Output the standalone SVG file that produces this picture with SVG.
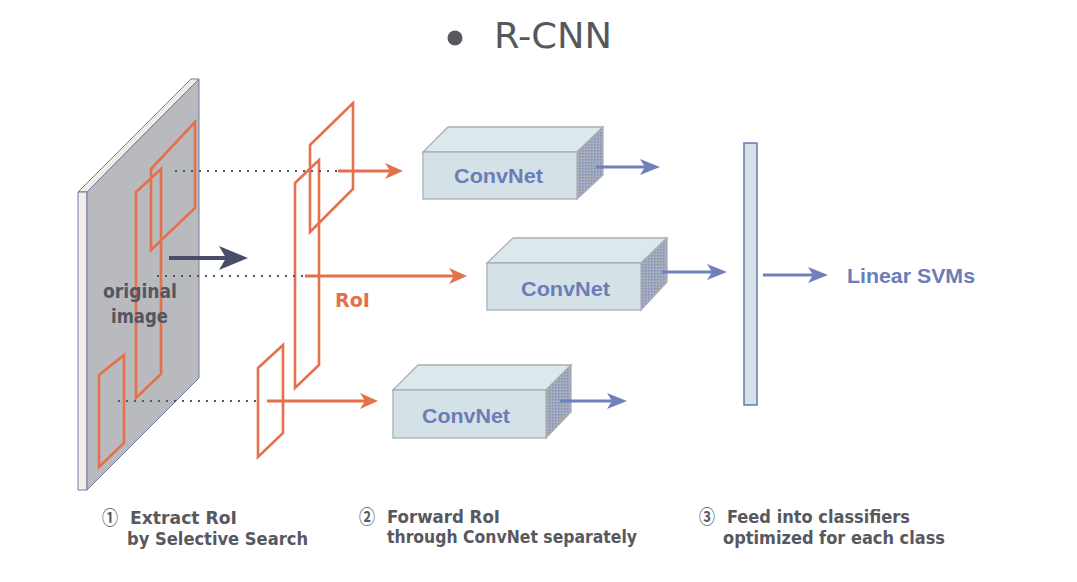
<svg xmlns="http://www.w3.org/2000/svg" width="1077" height="582" viewBox="0 0 1077 582">
<style>
.roi{fill:none;stroke:#e4704c;stroke-width:2.6;stroke-linejoin:miter}
.dot{stroke:#50566e;stroke-width:2;stroke-dasharray:2 6;fill:none}
.ra{stroke:#e4704c;stroke-width:3;fill:none}
.ba{stroke:#6f80bb;stroke-width:3;fill:none}
.da{stroke:#4a4d68;stroke-width:4;fill:none}
.front{fill:#d4e1e7;stroke:#a9afb4;stroke-width:1.3}
.top{fill:#dde8ec;stroke:#a9afb4;stroke-width:1.3}
.side{fill:url(#sidepat);stroke:#a9afb4;stroke-width:1.3}
.cn{font-family:"Liberation Sans",Arial,sans-serif;font-weight:bold;font-size:21px;fill:#6b7db8}
.cap{font-family:"DejaVu Sans Condensed","DejaVu Sans","Noto Sans CJK JP",sans-serif;font-weight:bold;font-size:17px;fill:#58585f}
.num{font-family:"Noto Sans CJK JP","DejaVu Sans",sans-serif;font-weight:bold;font-size:19px;fill:#58585f}
</style>
<defs>
<pattern id="sidepat" width="3" height="3" patternUnits="userSpaceOnUse">
<rect width="3" height="3" fill="#a9aebb"/>
<rect width="1.5" height="1.5" fill="#7d8cc2"/>
</pattern>
<marker id="hr" markerUnits="userSpaceOnUse" markerWidth="20" markerHeight="16" refX="5" refY="8" orient="auto">
<path d="M0,0 L18,8 L0,16 L5,8 z" fill="#e4704c"/>
</marker>
<marker id="hb" markerUnits="userSpaceOnUse" markerWidth="22" markerHeight="16" refX="5" refY="8" orient="auto">
<path d="M0,0 L20,8 L0,16 L5,8 z" fill="#6f80bb"/>
</marker>
<marker id="hd" markerUnits="userSpaceOnUse" markerWidth="30" markerHeight="24" refX="7" refY="12" orient="auto">
<path d="M0,0 L29,12 L0,24 L7,12 z" fill="#4a4d68"/>
</marker>
</defs>
<rect width="1077" height="582" fill="#ffffff"/>

<g id="title">
<circle cx="455" cy="38" r="7.5" fill="#58575e"/>
<text x="494" y="48" font-family="DejaVu Sans, sans-serif" font-size="35" fill="#58575e" textLength="118" lengthAdjust="spacingAndGlyphs">R-CNN</text>
</g>

<g id="original-image">
<polygon points="78,192 191,79 199,79 87,192" fill="#f1ebe9" stroke="#6f7aa3" stroke-width="1"/>
<polygon points="78,192 87,192 87,490 78,490" fill="#f3eeec" stroke="#6f7aa3" stroke-width="1"/>
<polygon points="87,192 199,79 199,378 87,490" fill="#b9babd" stroke="#6f7aa3" stroke-width="1"/>
<polygon class="roi" points="151,169 195,122 195,208 151,250"/>
<polygon class="roi" points="136,192 161,169 161,374 136,398"/>
<polygon class="roi" points="99,375 124,355 124,443 99,467"/>
<text x="103" y="298" font-family="DejaVu Sans, sans-serif" font-weight="bold" font-size="20" fill="#55555f" textLength="74" lengthAdjust="spacingAndGlyphs">original</text>
<text x="111" y="323" font-family="DejaVu Sans, sans-serif" font-weight="bold" font-size="20" fill="#55555f" textLength="57" lengthAdjust="spacingAndGlyphs">image</text>
</g>

<g id="roi-planes">
<polygon class="roi" points="310,145 353,103 353,189 310,232"/>
<polygon class="roi" points="295,183 319,160 319,365 295,388"/>
<polygon class="roi" points="258,368 283,345 283,433 258,457"/>
<text x="335" y="307" font-family="DejaVu Sans, sans-serif" font-weight="bold" font-size="19" fill="#e4704c" textLength="35" lengthAdjust="spacingAndGlyphs">RoI</text>
</g>

<g id="convnet1">
<polygon class="top" points="423,152 448,127 603,127 577,152"/>
<polygon class="side" points="577,152 603,127 603,175 577,199"/>
<rect class="front" x="423" y="152" width="154" height="47"/>
<text class="cn" x="454" y="183" textLength="89" lengthAdjust="spacingAndGlyphs">ConvNet</text>
</g>

<g id="convnet2">
<polygon class="top" points="487,263 513,238 667,238 641,263"/>
<polygon class="side" points="641,263 667,238 667,282 641,310"/>
<rect class="front" x="487" y="263" width="154" height="47"/>
<text class="cn" x="521" y="296" textLength="89" lengthAdjust="spacingAndGlyphs">ConvNet</text>
</g>

<g id="convnet3">
<polygon class="top" points="393,390 418,365 571,365 546,390"/>
<polygon class="side" points="546,390 571,365 571,412 546,438"/>
<rect class="front" x="393" y="390" width="153" height="48"/>
<text class="cn" x="422" y="423" textLength="88" lengthAdjust="spacingAndGlyphs">ConvNet</text>
</g>

<g id="feature-bar">
<rect x="744" y="143" width="13" height="262" fill="#d4e1e7" stroke="#6a78a8" stroke-width="1.5"/>
</g>

<g id="linear-svms">
<text class="cn" x="847" y="283" textLength="128" lengthAdjust="spacingAndGlyphs">Linear SVMs</text>
</g>

<g id="connectors">
<line class="dot" x1="175" y1="171" x2="337" y2="171"/>
<line class="dot" x1="157" y1="276" x2="303" y2="276"/>
<line class="dot" x1="118" y1="401" x2="260" y2="401"/>
<line class="da" x1="169" y1="258" x2="226" y2="258" marker-end="url(#hd)"/>
<line class="ra" x1="338" y1="171" x2="390" y2="171" marker-end="url(#hr)"/>
<line class="ra" x1="305" y1="276" x2="454" y2="276" marker-end="url(#hr)"/>
<line class="ra" x1="267" y1="401" x2="365" y2="401" marker-end="url(#hr)"/>
<line class="ba" x1="596" y1="167" x2="645" y2="167" marker-end="url(#hb)"/>
<line class="ba" x1="662" y1="272" x2="712" y2="272" marker-end="url(#hb)"/>
<line class="ba" x1="560" y1="401" x2="612" y2="401" marker-end="url(#hb)"/>
<line class="ba" x1="763" y1="275" x2="813" y2="275" marker-end="url(#hb)"/>
</g>

<g id="captions">
<text class="num" x="102" y="525" textLength="16" lengthAdjust="spacingAndGlyphs">①</text>
<text class="cap" x="130" y="524" textLength="107" lengthAdjust="spacingAndGlyphs">Extract RoI</text>
<text class="cap" x="127" y="545" textLength="181" lengthAdjust="spacingAndGlyphs">by Selective Search</text>
<text class="num" x="359" y="524" textLength="16" lengthAdjust="spacingAndGlyphs">②</text>
<text class="cap" x="387" y="523" textLength="113" lengthAdjust="spacingAndGlyphs">Forward RoI</text>
<text class="cap" x="387" y="543" textLength="250" lengthAdjust="spacingAndGlyphs">through ConvNet separately</text>
<text class="num" x="699" y="524" textLength="16" lengthAdjust="spacingAndGlyphs">③</text>
<text class="cap" x="727" y="523" textLength="183" lengthAdjust="spacingAndGlyphs">Feed into classifiers</text>
<text class="cap" x="723" y="544" textLength="222" lengthAdjust="spacingAndGlyphs">optimized for each class</text>
</g>
</svg>
